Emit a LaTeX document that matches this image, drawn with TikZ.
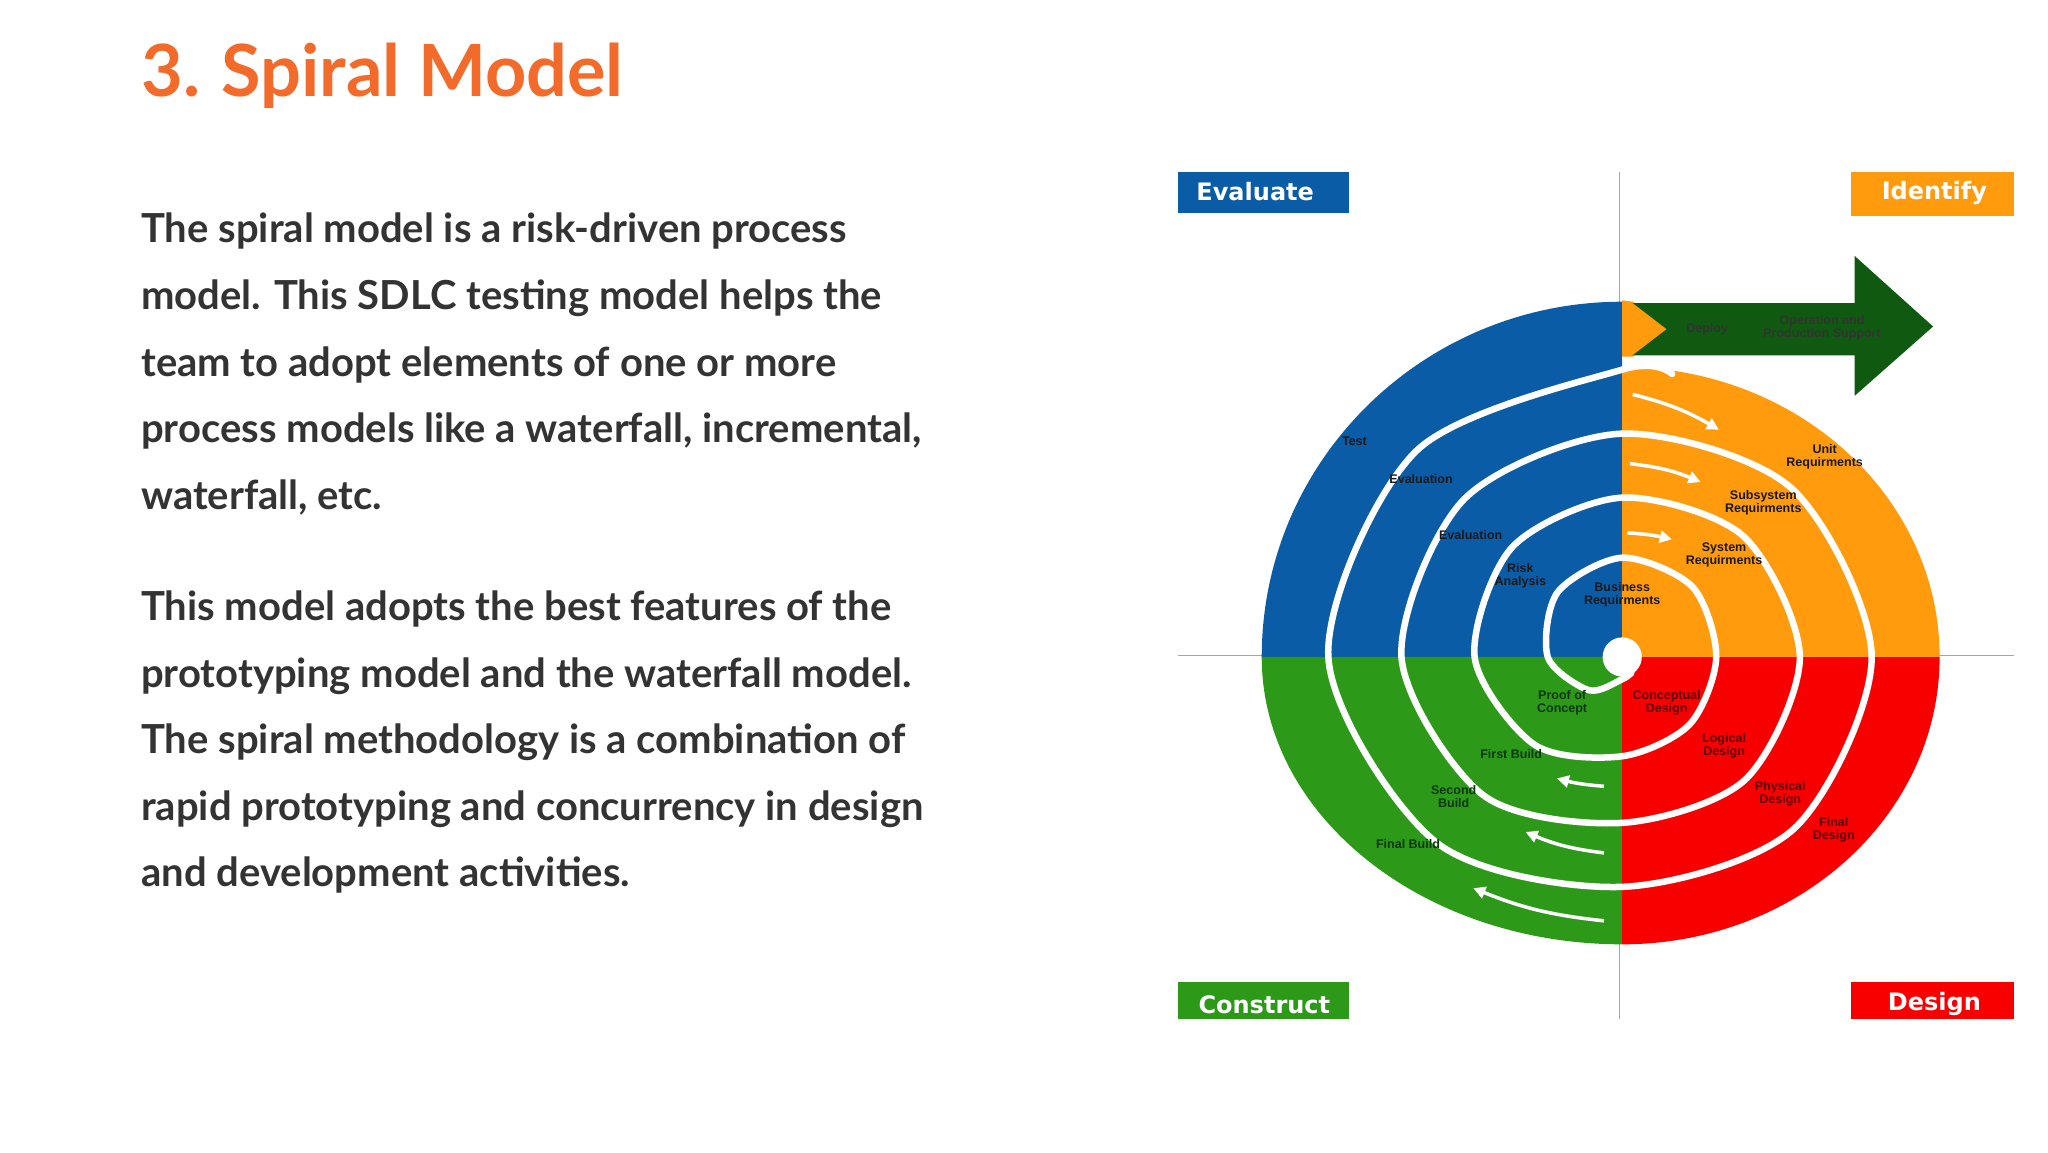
\documentclass[tikz,border=0pt]{standalone}
\usepackage{fontspec}
\setmainfont{Lato}
\newfontfamily\lab{Liberation Sans}
\newfontfamily\corner{DejaVu Sans}
\usetikzlibrary{arrows.meta}
\definecolor{ttl}{HTML}{F26B2A}
\definecolor{body}{HTML}{333333}
\definecolor{qblue}{HTML}{0B5CA6}
\definecolor{qorange}{HTML}{FF9B0C}
\definecolor{qred}{HTML}{F80000}
\definecolor{qgreen}{HTML}{2C9A18}
\definecolor{dgreen}{HTML}{0F5A10}
\definecolor{dred}{HTML}{5A0000}
\begin{document}
\begin{tikzpicture}[x=1.30612pt,y=1.30612pt,
  bodyline/.style={anchor=base west,text=body,font=\fontsize{40}{40}\selectfont\bfseries,inner sep=0},
  lbl/.style={font=\lab\bfseries\fontsize{12.5}{13}\selectfont,align=center,inner sep=0,text=black!90},
  cbox/.style={anchor=center,text=white,font=\corner\bfseries\fontsize{24}{24}\selectfont,inner sep=0},
  warrow/.style={white,line width=3.5pt,-{Triangle[length=12pt,width=12pt]}}]
\useasboundingbox (0,0) rectangle (1568,882);
\fill[white] (0,0) rectangle (1568,882);
% title
\node[anchor=base west,text=ttl,font=\fontsize{72}{72}\selectfont\bfseries,inner sep=0] (title) at (108,808) {3.\hspace{0.3em}Spiral Model};
% body
\node[bodyline] (l1) at (108,696) {The spiral model is a risk-driven process};
\node[bodyline] (l2) at (108,645) {model. This SDLC testing model helps the};
\node[bodyline] (l3) at (108,594) {team to adopt elements of one or more};
\node[bodyline] (l4) at (108,543) {process models like a waterfall, incremental,};
\node[bodyline] (l5) at (108,492) {waterfall, etc.};
\node[bodyline] (m1) at (108,407) {This model adopts the best features of the};
\node[bodyline] (m2) at (108,356) {prototyping model and the waterfall model.};
\node[bodyline] (m3) at (108,305) {The spiral methodology is a combination of};
\node[bodyline] (m4) at (108,254) {rapid prototyping and concurrency in design};
\node[bodyline] (m5) at (108,203) {and development activities.};
% axes
\coordinate (vt) at (1240,750); \coordinate (vb) at (1240,102);
\coordinate (hl) at (902,380); \coordinate (hr) at (1542,380);
\draw[gray!70,line width=1.5pt] (vt) -- (vb);
\draw[gray!70,line width=1.5pt] (hl) -- (hr);
% quadrants
\coordinate (C) at (1242,379);
\fill[qblue] (C) -- ++(0,272) arc[start angle=90,end angle=180,x radius=276,y radius=272] -- cycle;
\fill[qgreen] (C) -- ++(-276,0) arc[start angle=180,end angle=270,x radius=276,y radius=220] -- cycle;
\fill[qred] (C) -- ++(0,-220) arc[start angle=270,end angle=360,x radius=243,y radius=220] -- cycle;
\fill[qorange] (C) -- ++(243,0) arc[start angle=0,end angle=90,x radius=243,y radius=222] -- cycle;
% deploy arrow
\fill[qorange] (1242,652) -- (1250,651) -- (1276,630) -- (1250,609) -- (1242,609) -- cycle;
\fill[dgreen] (1250,650) -- (1420,650) -- (1420,686) -- (1480,632) -- (1420,579) -- (1420,610) -- (1250,610) -- (1276,630) -- cycle;
\node[lbl,text=black!80] (deploy) at (1307,630) {Deploy};
\node[lbl,text=black!80] (ops) at (1395,631) {Operation and\\Production Support};
% spiral
\begin{scope}[shift={(C)}]
\draw[white,line width=6.5pt,line cap=round] plot[smooth] coordinates {
(300:14) (270:17) (225:36) (180:57) (135:70) (90:76) (45:76) (0:72) (-45:73) (-90:76)
(-135:95) (-180:113) (-225:119) (-270:122) (-315:131) (-360:136) (-405:133) (-450:127)
(-495:150) (-540:169) (-585:171) (-630:171) (-675:183) (-720:191) (-765:186) (-810:176)
(-855:201) (-900:225) (-945:223) (-990:220) (-1000:220)};
\fill[white] (0,0) circle (15);
\end{scope}
% arrows
\coordinate (a1s) at (1250,580); \coordinate (a1e) at (1316,553);
\coordinate (a2s) at (1248,527); \coordinate (a2e) at (1302,513);
\coordinate (a3s) at (1246,474); \coordinate (a3e) at (1280,469);
\draw[warrow] (a1s) to[bend left=8] (a1e);
\draw[warrow] (a2s) to[bend left=8] (a2e);
\draw[warrow] (a3s) to[bend left=5] (a3e);
\coordinate (b1s) at (1228,177); \coordinate (b1e) at (1128,202);
\coordinate (b2s) at (1228,229); \coordinate (b2e) at (1168,245);
\coordinate (b3s) at (1228,280); \coordinate (b3e) at (1192,286);
\draw[warrow] (b1s) to[bend left=8] (b1e);
\draw[warrow] (b2s) to[bend left=8] (b2e);
\draw[warrow] (b3s) to[bend left=5] (b3e);
% labels
\node[lbl] (test) at (1037,544) {Test};
\node[lbl] (ev1) at (1088,515) {Evaluation};
\node[lbl] (ev2) at (1126,472) {Evaluation};
\node[lbl] (risk) at (1164,441) {Risk\\Analysis};
\node[lbl] (bus) at (1242,427) {Business\\Requirments};
\node[lbl] (sys) at (1320,457) {System\\Requirments};
\node[lbl] (sub) at (1350,497) {Subsystem\\Requirments};
\node[lbl] (unit) at (1397,532) {Unit\\Requirments};
\node[lbl,text=dgreen!60!black] (poc) at (1196,344) {Proof of\\Concept};
\node[lbl,text=dgreen!60!black] (fb1) at (1157,305) {First Build};
\node[lbl,text=dgreen!60!black] (fb2) at (1113,272) {Second\\Build};
\node[lbl,text=dgreen!60!black] (fb3) at (1078,236) {Final Build};
\node[lbl,text=dred] (cd) at (1276,344) {Conceptual\\Design};
\node[lbl,text=dred] (ld) at (1320,311) {Logical\\Design};
\node[lbl,text=dred] (pd) at (1363,274) {Physical\\Design};
\node[lbl,text=dred] (fd) at (1404,247) {Final\\Design};
% corner boxes
\fill[qblue] (902,750) rectangle (1033,719);
\node[cbox] (eval) at (961,735) {Evaluate};
\fill[qorange] (1417,750) rectangle (1542,717);
\node[cbox] (ident) at (1481,734) {Identify};
\fill[qgreen] (902,130) rectangle (1033,102);
\node[cbox] (cons) at (968,113) {Construct};
\fill[qred] (1417,130) rectangle (1542,102);
\node[cbox] (des) at (1481,113) {Design};
\end{tikzpicture}
\end{document}
